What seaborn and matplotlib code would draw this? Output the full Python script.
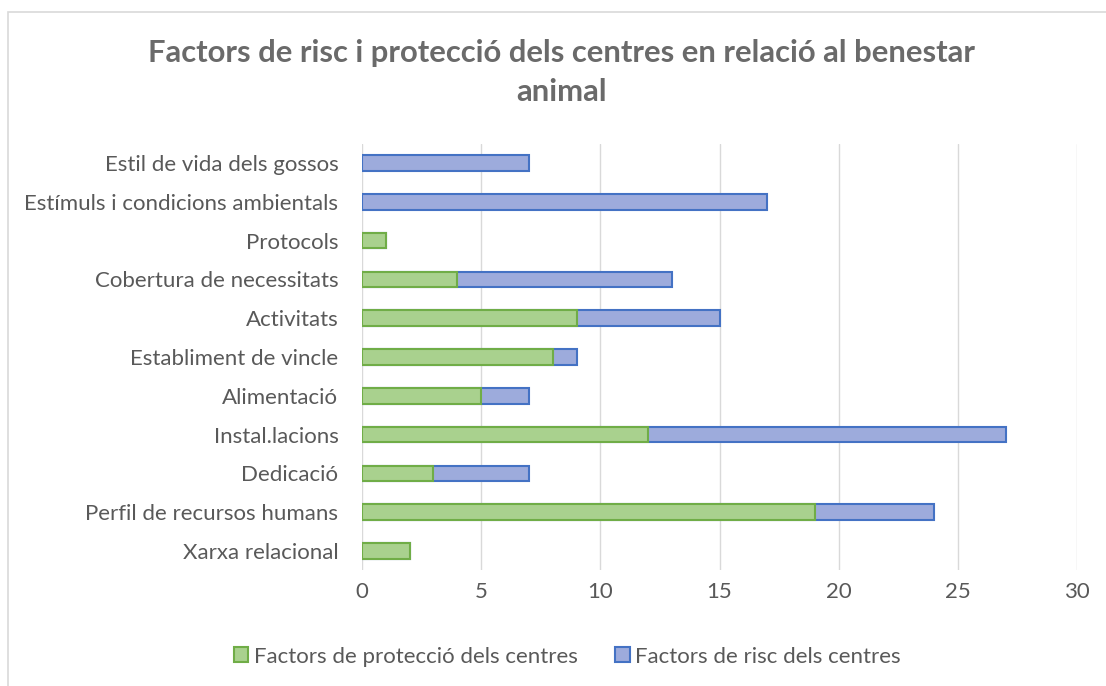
import numpy as np
import pandas as pd
import matplotlib
matplotlib.use('Agg')
import matplotlib.pyplot as plt
import seaborn as sns
from matplotlib.patches import Rectangle, Patch

# data (top to bottom as shown)
categories = ['Estil de vida dels gossos', 'Estímuls i condicions ambientals', 'Protocols',
              'Cobertura de necessitats', 'Activitats', 'Establiment de vincle', 'Alimentació',
              'Instal.lacions', 'Dedicació', 'Perfil de recursos humans', 'Xarxa relacional']
proteccio = [0, 0, 1, 4, 9, 8, 5, 12, 3, 19, 2]
risc = [7, 17, 0, 9, 6, 1, 2, 15, 4, 5, 0]
ticks = [0, 5, 10, 15, 20, 25, 30]

df = pd.DataFrame({'cat': categories, 'prot': proteccio, 'risc': risc})
df['total'] = df['prot'] + df['risc']
df['prot_plot'] = df['prot'].replace(0, np.nan)

sns.set_style('white')
plt.rcParams['font.family'] = ['Lato', 'DejaVu Sans']
grey = '#595959'

fig = plt.figure(figsize=(11.06, 6.86), dpi=100)
ax = fig.add_axes([0.3273, 0.1685, 0.6465, 0.6222])

sns.barplot(data=df, x='total', y='cat', order=categories, orient='h', width=0.4,
            color='#9dabdc', edgecolor='#4472c4', linewidth=1.5, saturation=1, ax=ax)
sns.barplot(data=df, x='prot_plot', y='cat', order=categories, orient='h', width=0.4,
            color='#a9d18e', edgecolor='#70ad47', linewidth=1.5, saturation=1, ax=ax)

ax.set_xlim(0, 30)
ax.set_xticks(ticks)
ax.set_xticklabels([str(t) for t in ticks])
ax.xaxis.grid(True, color='#d9d9d9', linewidth=1)
ax.set_axisbelow(True)
for s in ax.spines.values():
    s.set_visible(False)
ax.set_xlabel('')
ax.set_ylabel('')
ax.tick_params(axis='y', length=0, pad=17, labelsize=16, labelcolor=grey)
ax.tick_params(axis='x', length=0, pad=8, labelsize=16, labelcolor=grey)

fig.text(0.508, 0.894, 'Factors de risc i protecció dels centres en relació al benestar\nanimal',
         ha='center', va='center', fontsize=22.3, fontweight='bold', color='#6a6a6a',
         linespacing=1.5)

handles = [Patch(facecolor='#a9d18e', edgecolor='#70ad47', linewidth=1.5),
           Patch(facecolor='#9dabdc', edgecolor='#4472c4', linewidth=1.5)]
leg = fig.legend(handles, ['Factors de protecció dels centres', 'Factors de risc dels centres'],
                 loc='center', bbox_to_anchor=(0.513, 0.043), ncol=2, frameon=False,
                 fontsize=16, handlelength=0.65, handleheight=0.65, handletextpad=0.25,
                 columnspacing=1.7)
for t in leg.get_texts():
    t.set_color(grey)

fig.patches.append(Rectangle((8 / 1106, -0.01), 1.1, 1 - 12 / 686 + 0.01,
                             transform=fig.transFigure, fill=False,
                             edgecolor='#d9d9d9', linewidth=1.2))

fig.savefig('out.png', dpi=100)
